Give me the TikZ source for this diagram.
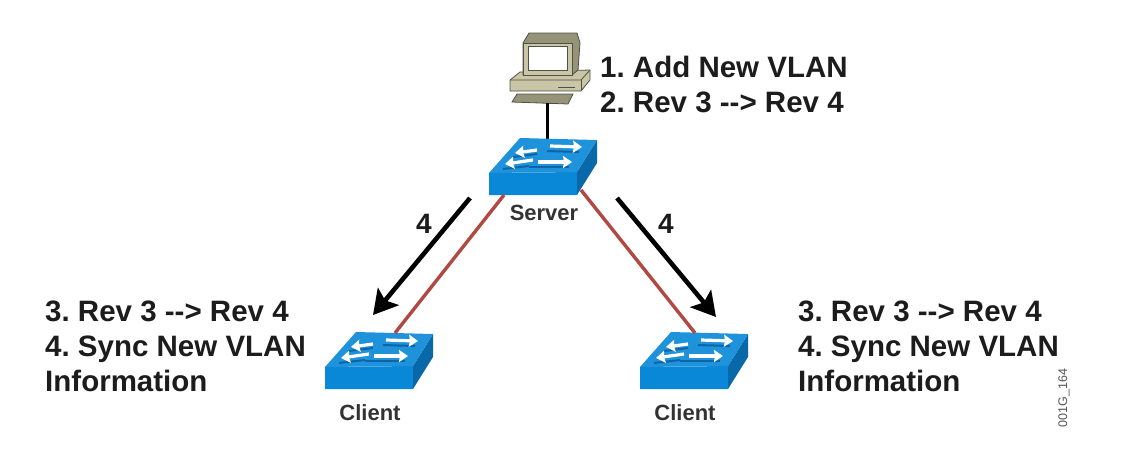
\documentclass[tikz,border=0pt]{standalone}
\usepackage{fontspec}
\setmainfont{Liberation Sans}
\usetikzlibrary{arrows.meta}
\definecolor{SwitchTop}{RGB}{30,146,218}
\definecolor{SwitchFront}{RGB}{10,136,216}
\definecolor{SwitchSide}{RGB}{8,104,168}
\definecolor{SwitchLine}{RGB}{14,100,165}
\definecolor{PcBody}{RGB}{200,198,166}
\definecolor{PcShade}{RGB}{150,148,120}
\definecolor{PcInk}{RGB}{80,80,68}
\definecolor{LinkRed}{RGB}{178,72,66}
\definecolor{TextInk}{RGB}{28,28,28}

\begin{document}
\frenchspacing
\begin{tikzpicture}[x=1pt,y=-1pt,
  steptext/.style={font=\fontsize{29.5}{35}\selectfont\bfseries,text=TextInk,align=left,anchor=west,inner sep=0pt},
  namelabel/.style={font=\fontsize{22}{24}\selectfont\bfseries,text=TextInk!90,inner sep=0pt},
  numlabel/.style={font=\fontsize{28}{30}\selectfont\bfseries,text=TextInk,inner sep=0pt},
  redlink/.style={draw=LinkRed,line width=3.4pt},
  blacklink/.style={draw=black,line width=3pt},
  syncarr/.style={-{Stealth[length=24pt,width=27pt,inset=5pt]},draw=black,line width=4.6pt},
  whitearr/.style={-{Stealth[length=9pt,width=12pt,inset=1pt]},draw=white,line width=3.2pt},
  shadearr/.style={draw=SwitchLine,line width=2pt},
  switchicon/.pic={
    \fill[SwitchFront] (0,0) -- (0,-22) -- (88,-23) -- (88,0) -- cycle;
    \fill[SwitchSide] (88,0) -- (88,-23) -- (108,-55) -- (108,-32) -- cycle;
    \fill[SwitchTop] (0,-22) -- (31,-57) -- (108,-55) -- (88,-23) -- cycle;
    \draw[shadearr] (24,-38) -- (48,-41);
    \draw[shadearr] (40,-28) -- (80,-28);
    \draw[shadearr] (58,-44) -- (90,-43);
    \draw[shadearr] (14,-26) -- (40,-29);
    \draw[whitearr] (48,-45) -- (26,-42);
    \draw[whitearr] (61,-49) -- (93,-48);
    \draw[whitearr] (44,-35) -- (16,-31);
    \draw[whitearr] (49,-33) -- (83,-33);
    \coordinate (-front) at (15,0);
    \coordinate (-side) at (92,-5);
    \coordinate (-back) at (70,-56);
    \coordinate (-top) at (55,-56);
  }]
  \useasboundingbox (0,0) rectangle (1139,467);
  % computer
  \coordinate (pcfoot) at (547,103);
  \fill[PcShade,draw=PcInk,line width=0.8pt] (512,102) -- (517,94) -- (573,94) -- (568,104) -- cycle;
  \fill[PcBody,draw=PcInk,line width=0.8pt] (510,80) -- (520,72) -- (590,70) -- (590,80) -- (581,91) -- (510,91) -- cycle;
  \draw[PcInk,line width=0.8pt] (510,80) -- (581,80) -- (590,70);
  \draw[PcInk,line width=0.8pt] (581,80) -- (581,91);
  \draw[PcInk,line width=1pt] (558,87) -- (575,87);
  \fill[PcShade,draw=PcInk,line width=0.8pt] (523,43) -- (529,33) -- (577,33) -- (580,43) -- (578,70) -- (572,75) -- (523,75) -- cycle;
  \fill[PcBody,draw=PcInk,line width=0.8pt] (523,43) -- (572,43) -- (572,75) -- (523,75) -- cycle;
  \fill[white,draw=PcInk,line width=1pt] (528,46) rectangle (567,70);
  % links behind the switches
  \draw[blacklink] (pcfoot) -- (547,140);
  \pic (server) at (489,195) {switchicon};
  \pic (clientL) at (325,389) {switchicon};
  \pic (clientR) at (640,389) {switchicon};
  \draw[redlink] (server-front) -- (clientL-back);
  \draw[redlink] (server-side) -- (clientR-top);
  % update arrows
  \coordinate (arrLfrom) at (470,198);
  \coordinate (arrLto) at (373,315);
  \coordinate (arrRfrom) at (617,198);
  \coordinate (arrRto) at (716,317);
  \draw[syncarr] (arrLfrom) -- (arrLto);
  \draw[syncarr] (arrRfrom) -- (arrRto);
  \node[numlabel] (numL) at (424,224) {4};
  \node[numlabel] (numR) at (666,224) {4};
  % labels
  \node[steptext] (adminsteps) at (600,84) {1. Add New VLAN\\2. Rev 3 {-}{-}> Rev 4};
  \node[steptext] (leftsteps) at (45,346) {3. Rev 3 {-}{-}> Rev 4\\4. Sync New VLAN\\Information};
  \node[steptext] (rightsteps) at (798,346) {3. Rev 3 {-}{-}> Rev 4\\4. Sync New VLAN\\Information};
  \node[namelabel] (serverlabel) at (544,213) {Server};
  \node[namelabel] (clientLlabel) at (370,413) {Client};
  \node[namelabel] (clientRlabel) at (685,413) {Client};
  \node[font=\fontsize{12.5}{14}\selectfont,text=TextInk!75,rotate=90,inner sep=0pt] (figid) at (1064,398) {001G\_164};
\end{tikzpicture}
\end{document}
